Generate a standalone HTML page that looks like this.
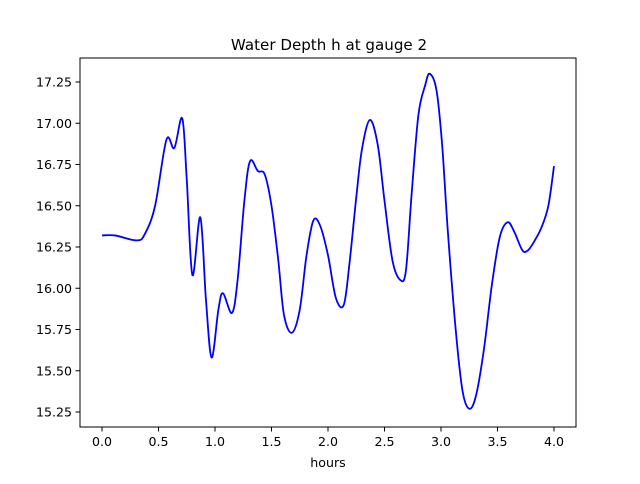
<!DOCTYPE html>
<html><head><meta charset="utf-8"><style>
body{margin:0;background:#fff;font-family:"DejaVu Sans","Liberation Sans",sans-serif}
svg text{font-family:"DejaVu Sans","Liberation Sans",sans-serif;font-size:12.6px;fill:#000}
</style></head><body>
<svg id="chart" width="640" height="480">
<rect width="640" height="480" fill="#fff"/>
<text x="329" y="50" text-anchor="middle" style="font-size:15.1px">Water Depth h at gauge 2</text>
<g id="ticks"></g>
<path id="line" fill="none" stroke="#0000ff" stroke-width="1.8"/>
<rect x="80" y="58" width="496" height="369" fill="none" stroke="#000" stroke-width="1"/>
<text x="328" y="467" text-anchor="middle">hours</text>
</svg>
<script>
const hours=[0,.115,.31,.38,.47,.57,.64,.71,.75,.80,.87,.92,.97,1.03,1.07,1.15,1.20,1.26,1.31,1.38,1.44,1.50,1.56,1.61,1.68,1.75,1.81,1.87,1.93,2.00,2.07,2.14,2.19,2.25,2.30,2.37,2.44,2.50,2.57,2.64,2.69,2.74,2.80,2.86,2.90,2.96,3.01,3.06,3.13,3.19,3.25,3.31,3.38,3.45,3.52,3.59,3.65,3.72,3.77,3.83,3.89,3.95,4.0];
const depth=[16.32,16.32,16.29,16.33,16.50,16.90,16.85,17.03,16.66,16.08,16.43,15.93,15.58,15.87,15.97,15.85,16.05,16.53,16.77,16.71,16.69,16.50,16.17,15.84,15.73,15.87,16.20,16.41,16.38,16.20,15.94,15.90,16.15,16.55,16.84,17.02,16.87,16.53,16.17,16.05,16.11,16.57,17.05,17.23,17.30,17.20,16.87,16.35,15.75,15.38,15.27,15.35,15.63,16.02,16.31,16.40,16.34,16.23,16.23,16.29,16.37,16.50,16.74];
const xTicks=[0,0.5,1,1.5,2,2.5,3,3.5,4];
const yTicks=[15.25,15.5,15.75,16,16.25,16.5,16.75,17,17.25];
const X=v=>102+v*113;
const Y=v=>82+(17.25-v)*165;
const NS='http://www.w3.org/2000/svg';
const g=document.getElementById('ticks');
function mk(t,a){const e=document.createElementNS(NS,t);for(const k in a)e.setAttribute(k,a[k]);g.appendChild(e);return e;}
xTicks.forEach(v=>{
 const l=mk('line',{x1:X(v),x2:X(v),y1:427,y2:431.5,stroke:'#000','stroke-width':1});
 
 
 const t=mk('text',{x:X(v),y:446,'text-anchor':'middle'});t.textContent=v.toFixed(1);
 
 
});
yTicks.forEach(v=>{
 const l=mk('line',{x1:75.5,x2:80,y1:Y(v),y2:Y(v),stroke:'#000','stroke-width':1});
 
 
 const t=mk('text',{x:72,y:Y(v)+4.5,'text-anchor':'end'});t.textContent=v.toFixed(2);
 
 
});
const P=hours.map((h,i)=>[X(h),Y(depth[i])]);
let d='M'+P[0][0]+','+P[0][1];
for(let i=0;i<P.length-1;i++){
 const p0=P[Math.max(0,i-1)],p1=P[i],p2=P[i+1],p3=P[Math.min(P.length-1,i+2)];
 const c1=[p1[0]+(p2[0]-p0[0])/6,p1[1]+(p2[1]-p0[1])/6];
 const c2=[p2[0]-(p3[0]-p1[0])/6,p2[1]-(p3[1]-p1[1])/6];
 d+=` C${c1[0]},${c1[1]} ${c2[0]},${c2[1]} ${p2[0]},${p2[1]}`;
}
document.getElementById('line').setAttribute('d',d);
</script>
</body></html>
